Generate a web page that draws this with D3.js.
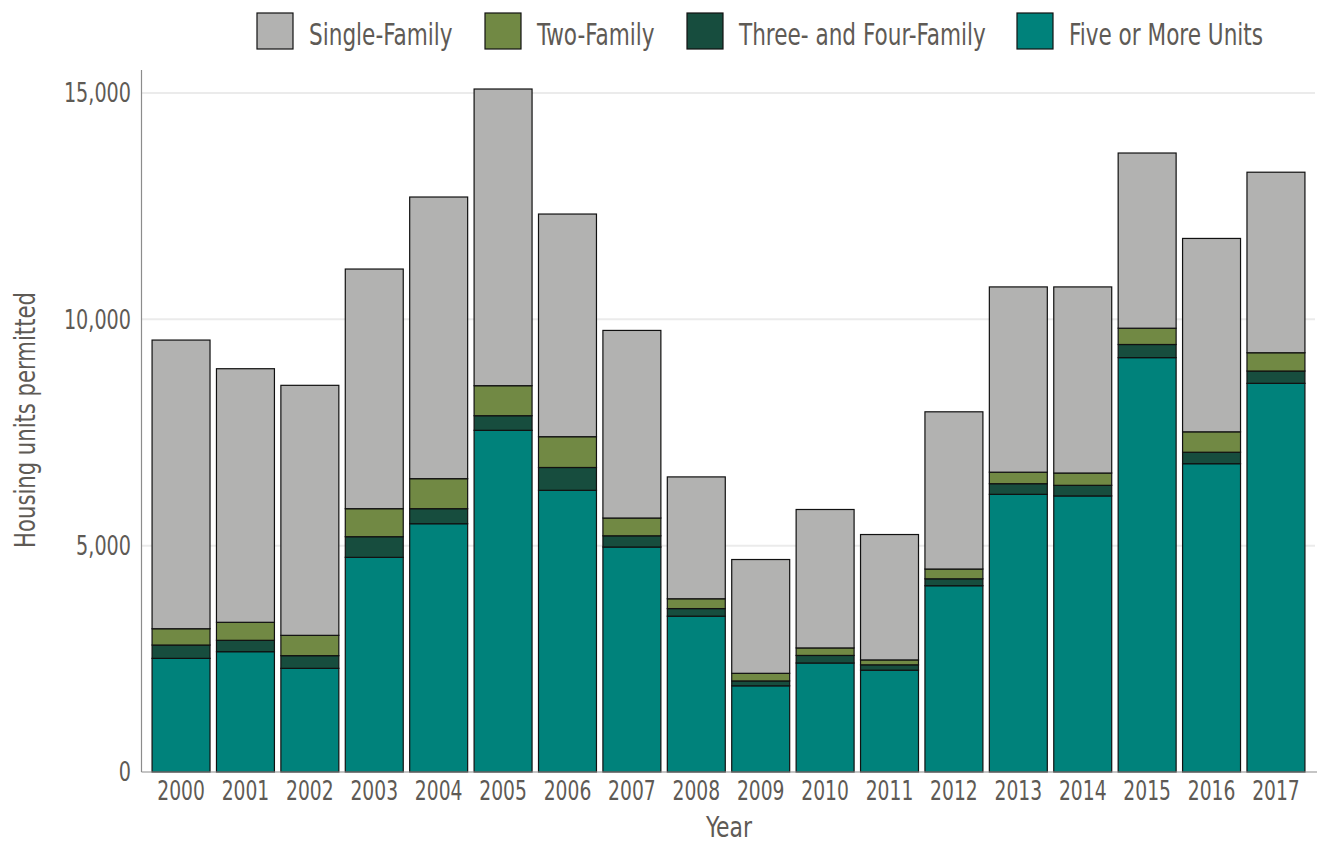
<!DOCTYPE html>
<html><head><meta charset="utf-8">
<script src="https://cdn.jsdelivr.net/npm/d3@7"></script>
<style>
body{margin:0;background:#fff;}
text{font-family:"DejaVu Sans Condensed","DejaVu Sans",sans-serif;fill:#5e5a55;}
</style></head>
<body><svg id="c" width="1317" height="844"></svg>
<script>
const years = ["2000","2001","2002","2003","2004","2005","2006","2007","2008","2009","2010","2011","2012","2013","2014","2015","2016","2017"];
const fiveOrMore = [2510,2658,2290,4742,5485,7548,6223,4970,3442,1904,2408,2249,4115,6134,6099,9154,6811,8586];
const threeFour  = [295,251,280,456,332,323,504,248,168,108,167,119,153,235,234,290,253,272];
const twoFamily  = [360,398,449,619,663,663,680,393,217,168,166,108,216,254,272,360,451,404];
const singleFamily = [6377,5602,5523,5294,6222,6554,4919,4144,2692,2514,3058,2770,3473,4093,4111,3870,4272,3988];
const seriesNames = ["Five or More Units","Three- and Four-Family","Two-Family","Single-Family"];
const legendOrder = ["Single-Family","Two-Family","Three- and Four-Family","Five or More Units"];
const yTicks = [0,5000,10000,15000];
const colors = {"Single-Family":"#b2b2b1","Two-Family":"#718944","Three- and Four-Family":"#174d3e","Five or More Units":"#00827b"};

(function(){
const rows = years.map((y,i)=>({year:y,"Five or More Units":fiveOrMore[i],"Three- and Four-Family":threeFour[i],"Two-Family":twoFamily[i],"Single-Family":singleFamily[i]}));
const stack = d3.stack().keys(seriesNames)(rows);

const svg = d3.select("#c");
const pl=141.5, pr=1315, pt=70, pb=772;
const x = d3.scaleBand().domain(years).range([pl+0.9,1314.6]).paddingInner(0.1).paddingOuter(0.15);
const y = d3.scaleLinear().domain([0,15508]).range([pb,pt]);

function condense(sel,k){
  sel.each(function(){
    const w=this.getComputedTextLength();
    d3.select(this).attr("textLength",w*k).attr("lengthAdjust","spacingAndGlyphs");
  });
}

svg.append("g").selectAll("line").data(yTicks.filter(d=>d>0)).join("line")
  .attr("x1",pl).attr("x2",pr).attr("y1",d=>y(d)).attr("y2",d=>y(d))
  .attr("stroke","#ebebeb").attr("stroke-width",2);

svg.append("g").selectAll("g").data(stack).join("g")
  .attr("fill",d=>colors[d.key])
  .selectAll("rect").data(d=>d).join("rect")
  .attr("x",d=>x(d.data.year)).attr("width",x.bandwidth())
  .attr("y",d=>y(d[1])).attr("height",d=>y(d[0])-y(d[1]))
  .attr("stroke","#111").attr("stroke-width",1.2);

svg.append("line").attr("x1",pl).attr("x2",pl).attr("y1",pt).attr("y2",pb).attr("stroke","#8c8c8c").attr("stroke-width",1.2);
svg.append("line").attr("x1",pl).attr("x2",pr+2).attr("y1",pb).attr("y2",pb).attr("stroke","#8c8c8c").attr("stroke-width",1.2);

svg.append("g").selectAll("text").data(yTicks).join("text")
  .attr("x",131).attr("y",d=>y(d)).attr("dy","0.36em").attr("text-anchor","end")
  .attr("font-size",26).text(d=>d3.format(",")(d)).call(condense,0.82);

svg.append("g").selectAll("text").data(years).join("text")
  .attr("x",d=>x(d)+x.bandwidth()/2).attr("y",800).attr("text-anchor","middle")
  .attr("font-size",26).text(d=>d).call(condense,0.8);

svg.append("text").attr("x",729).attr("y",837).attr("text-anchor","middle").attr("font-size",29).text("Year").call(condense,0.84);
svg.append("text").attr("transform","translate(35,420) rotate(-90)").attr("text-anchor","middle").attr("font-size",28).text("Housing units permitted").call(condense,0.84);

const legX = [257,485,687,1017];
const lg = svg.append("g").selectAll("g").data(legendOrder).join("g")
  .attr("transform",(d,i)=>`translate(${legX[i]},13)`);
lg.append("rect").attr("width",36).attr("height",36).attr("fill",d=>colors[d]).attr("stroke","#111").attr("stroke-width",1.2);
lg.append("text").attr("x",52).attr("y",32).attr("font-size",30).text(d=>d).call(condense,0.8);
})();
</script></body></html>
